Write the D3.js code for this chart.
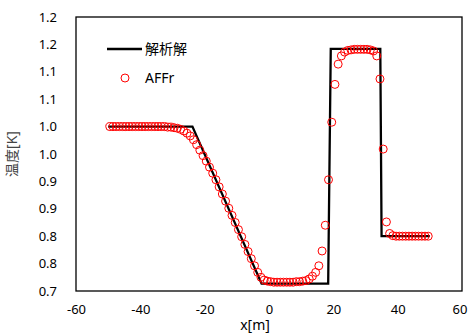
<!DOCTYPE html>
<html>
<head>
<meta charset="utf-8">
<script src="https://cdn.jsdelivr.net/npm/d3@7"></script>
<style>
body { margin:0; background:#fff; }
svg { display:block; }
.tick-label { font-family:"Noto Sans", sans-serif; font-size:13px; fill:#000; }
.axis-title { font-family:"Noto Sans", "Noto Sans CJK JP", sans-serif; font-size:14px; }
.legend-text { font-family:"Noto Sans", "Noto Sans CJK JP", sans-serif; font-size:14px; fill:#000; }
</style>
</head>
<body>
<svg id="chart" width="468" height="336"></svg>
<script>
// analytic solution (polyline)
var exactX = [-50, -23.8, -2.3, 18.4, 19.2, 34.6, 35.0, 50];
var exactT = [1.0, 1.0, 0.7135, 0.7135, 1.142, 1.142, 0.8, 0.8];

// AFFr cell values
var affrX = [-49.5,-48.5,-47.5,-46.5,-45.5,-44.5,-43.5,-42.5,-41.5,-40.5,
	-39.5,-38.5,-37.5,-36.5,-35.5,-34.5,-33.5,-32.5,-31.5,-30.5,
	-29.5,-28.5,-27.5,-26.5,-25.5,-24.5,-23.5,-22.5,-21.5,-20.5,
	-19.5,-18.5,-17.5,-16.5,-15.5,-14.5,-13.5,-12.5,-11.5,-10.5,
	-9.5,-8.5,-7.5,-6.5,-5.5,-4.5,-3.5,-2.5,-1.5,-0.5,
	0.5,1.5,2.5,3.5,4.5,5.5,6.5,7.5,8.5,9.5,
	10.5,11.5,12.5,13.5,14.5,15.5,16.5,17.5,18.5,19.5,
	20.5,21.5,22.5,23.5,24.5,25.5,26.5,27.5,28.5,29.5,
	30.5,31.5,32.5,33.5,34.5,35.5,36.5,37.5,38.5,39.5,
	40.5,41.5,42.5,43.5,44.5,45.5,46.5,47.5,48.5,49.5];
var affrT = [1.000,1.000,1.000,1.000,1.000,1.000,1.000,1.000,1.000,1.000,
	1.000,1.000,1.000,1.000,1.000,1.000,1.000,1.000,0.999,0.999,
	0.998,0.997,0.995,0.992,0.988,0.983,0.976,0.967,0.957,0.947,
	0.937,0.926,0.915,0.903,0.890,0.877,0.864,0.851,0.838,0.825,
	0.812,0.799,0.785,0.772,0.759,0.746,0.734,0.725,0.720,0.718,
	0.717,0.716,0.716,0.716,0.716,0.716,0.716,0.716,0.717,0.717,
	0.718,0.719,0.722,0.727,0.734,0.746,0.773,0.820,0.903,1.008,
	1.077,1.114,1.129,1.136,1.139,1.140,1.141,1.141,1.141,1.141,
	1.141,1.140,1.138,1.129,1.087,0.959,0.826,0.805,0.801,0.800,
	0.800,0.800,0.800,0.800,0.800,0.800,0.800,0.800,0.800,0.800];

var xTicks = [-60, -40, -20, 0, 20, 40, 60];
var xTickLabels = ["-60","-40","-20","0","20","40","60"];
var yTicks = [0.7, 0.75, 0.8, 0.85, 0.9, 0.95, 1.0, 1.05, 1.1, 1.15, 1.2];
var yTickLabels = ["0.7","0.8","0.8","0.9","0.9","1.0","1.0","1.1","1.1","1.2","1.2"];

var svg = d3.select('#chart');
var plotLeft = 76, plotRight = 462, plotTop = 17, plotBottom = 291;

var xScale = d3.scaleLinear().domain([-60, 60]).range([plotLeft, plotRight]);
var yScale = d3.scaleLinear().domain([0.7, 1.2]).range([plotBottom, plotTop]);

// frame
svg.append('rect')
	.attr('x', plotLeft)
	.attr('y', plotTop)
	.attr('width', plotRight - plotLeft)
	.attr('height', plotBottom - plotTop)
	.attr('fill', 'none')
	.attr('stroke', '#000')
	.attr('stroke-width', 1.3);

// axes (labels only)
var xAxis = d3.axisBottom(xScale).tickValues(xTicks).tickSize(0).tickPadding(14)
	.tickFormat(function(d, i){ return xTickLabels[i]; });
var yAxis = d3.axisLeft(yScale).tickValues(yTicks).tickSize(0).tickPadding(19)
	.tickFormat(function(d, i){ return yTickLabels[i]; });

var gx = svg.append('g')
	.attr('transform', 'translate(0,' + plotBottom + ')')
	.call(xAxis);
var gy = svg.append('g')
	.attr('transform', 'translate(' + plotLeft + ',0)')
	.call(yAxis);
[gx, gy].forEach(function(g){
	g.select('.domain').remove();
	g.selectAll('text').attr('class', 'tick-label').attr('fill', '#000');
});
// last label sits at the window edge, pull it in a little
gx.selectAll('text')
	.filter(function(d){ return d === 60; })
	.attr('dx', -2.5);

// titles
svg.append('text')
	.attr('class', 'axis-title')
	.attr('x', 255)
	.attr('y', 330)
	.attr('text-anchor', 'middle')
	.attr('fill', '#000')
	.text('x[m]');
svg.append('text')
	.attr('class', 'axis-title')
	.attr('transform', 'translate(17,154) rotate(-90)')
	.attr('text-anchor', 'middle')
	.attr('fill', '#444')
	.text('温度[K]');

// analytic line
var exactData = exactX.map(function(x, i){ return [x, exactT[i]]; });
var line = d3.line()
	.x(function(d){ return xScale(d[0]); })
	.y(function(d){ return yScale(d[1]); });
svg.append('path')
	.datum(exactData)
	.attr('d', line)
	.attr('fill', 'none')
	.attr('stroke', '#000')
	.attr('stroke-width', 2.3);

// AFFr circles
svg.append('g')
	.selectAll('circle')
	.data(affrX)
	.enter()
	.append('circle')
	.attr('cx', function(d){ return xScale(d); })
	.attr('cy', function(d, i){ return yScale(affrT[i]); })
	.attr('r', 4)
	.attr('fill', 'none')
	.attr('stroke', '#ff0000')
	.attr('stroke-width', 1);

// legend
var legend = svg.append('g');
legend.append('line')
	.attr('x1', 107).attr('x2', 142)
	.attr('y1', 49).attr('y2', 49)
	.attr('stroke', '#000')
	.attr('stroke-width', 2.3);
legend.append('text')
	.attr('class', 'legend-text')
	.attr('x', 145).attr('y', 54)
	.text('解析解');
legend.append('circle')
	.attr('cx', 125).attr('cy', 78)
	.attr('r', 4)
	.attr('fill', 'none')
	.attr('stroke', '#ff0000')
	.attr('stroke-width', 1);
legend.append('text')
	.attr('class', 'legend-text')
	.attr('x', 145).attr('y', 83)
	.text('AFFr');
</script>
</body>
</html>
